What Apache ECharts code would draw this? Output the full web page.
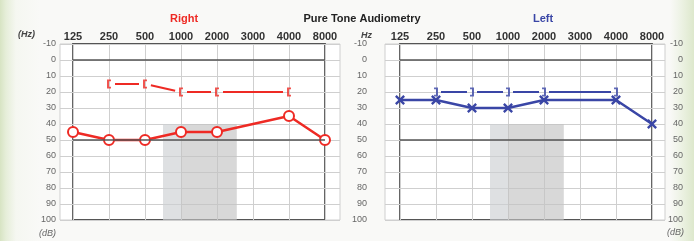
<!DOCTYPE html>
<html>
<head>
<meta charset="utf-8">
<script src="https://cdn.jsdelivr.net/npm/echarts@6/dist/echarts.min.js"></script>
<style>
  html, body { margin: 0; padding: 0; }
  body {
    width: 694px; height: 241px; overflow: hidden;
    background: linear-gradient(to right, #d7e4c3 0px, #e6eed9 6px, #f5f7f1 16px, #f9f9f7 40px, #f9f9f7 670px, #eef3e6 680px, #dde8cc 694px);
  }
  #chart { width: 694px; height: 241px; }
</style>
</head>
<body>
<div id="chart"></div>
<script>
// frequencies (Hz) shown along the top, evenly spaced
var freqLabels = ['125', '250', '500', '1000', '2000', '3000', '4000', '8000'];
// hearing level in dB, null = not tested
var rightAir  = [45, 50, 50, 45, 45, null, 35, 50];
var rightBone = [null, 15, 15, 20, 20, null, 20, null];
var leftAir   = [25, 25, 30, 30, 25, null, 25, 40];
var leftBone  = [null, 20, 20, 20, 20, null, 20, null];
// speech area (in frequency index units and dB)
var speechBox = [2.5, 4.55, 40, 100];

var RED = '#ee2a24';
var BLUE = '#3a46a6';
var LIGHT = '#cfcfcf';
var DARK = '#555555';
var FONT = 'Liberation Sans';

function toPoints(arr) {
  var out = [];
  for (var i = 0; i < arr.length; i++) {
    if (arr[i] != null) out.push([i, arr[i]]);
  }
  return out;
}
function toSegments(arr) {
  var p = toPoints(arr), out = [];
  for (var i = 0; i < p.length - 1; i++) out.push([p[i][0], p[i][1], p[i + 1][0], p[i + 1][1]]);
  return out;
}

var myChart = echarts.init(document.getElementById('chart'));

function outerX(gi) {
  return { gridIndex: gi, type: 'value', min: 0, max: 1, show: false };
}
function freqX(gi) {
  return {
    gridIndex: gi, type: 'value', min: 0, max: 7, interval: 1, position: 'top',
    axisLine: { show: false }, axisTick: { show: false },
    axisLabel: {
      margin: 2, fontFamily: FONT, fontSize: 11, fontWeight: 'bold', color: '#333',
      formatter: function (v) { return freqLabels[v] || ''; }
    },
    splitLine: { show: true, lineStyle: { color: LIGHT, width: 1 } }
  };
}
function dbY(gi, opts) {
  var y = {
    gridIndex: gi, type: 'value', inverse: true, min: -10, max: 100, interval: 10,
    axisLine: { show: false }, axisTick: { show: false },
    axisLabel: { show: false },
    splitLine: { show: false }
  };
  return Object.assign(y, opts || {});
}
var labelStyle = { fontFamily: FONT, fontSize: 9, color: '#666' };

function backSeries(xi, yi) {
  return {
    type: 'scatter', xAxisIndex: xi, yAxisIndex: yi, data: [], z: 1, silent: true,
    markArea: {
      silent: true,
      data: [
        [{ xAxis: speechBox[0], yAxis: speechBox[2], itemStyle: { color: 'rgba(205,208,211,0.65)' } },
         { xAxis: 3, yAxis: speechBox[3] }],
        [{ xAxis: 3, yAxis: speechBox[2], itemStyle: { color: 'rgba(195,195,195,0.65)' } },
         { xAxis: speechBox[1], yAxis: speechBox[3] }]
      ]
    },
    markLine: {
      silent: true, symbol: 'none', label: { show: false },
      lineStyle: { color: DARK, width: 1.5, type: 'solid' },
      data: [{ yAxis: 0 }, { yAxis: 50 }]
    }
  };
}
function boneSegments(xi, yi, arr, color, gap) {
  return {
    type: 'custom', xAxisIndex: xi, yAxisIndex: yi, z: 3, silent: true,
    encode: { x: [0, 2], y: [1, 3] },
    data: toSegments(arr),
    renderItem: function (params, api) {
      var a = api.coord([api.value(0), api.value(1)]);
      var b = api.coord([api.value(2), api.value(3)]);
      var dx = b[0] - a[0], dy = b[1] - a[1];
      var len = Math.sqrt(dx * dx + dy * dy);
      var ux = dx / len, uy = dy / len;
      return {
        type: 'line',
        shape: { x1: a[0] + ux * gap, y1: a[1] + uy * gap, x2: b[0] - ux * gap, y2: b[1] - uy * gap },
        style: { stroke: color, lineWidth: 2 }
      };
    }
  };
}

var option = {
  animation: false,
  backgroundColor: 'transparent',
  grid: [
    { left: 60, top: 44, width: 280, height: 176, show: true, backgroundColor: '#fff', borderColor: LIGHT, borderWidth: 1 },
    { left: 73, top: 44, width: 252, height: 176, show: true, backgroundColor: 'transparent', borderColor: DARK, borderWidth: 1.8 },
    { left: 385, top: 44, width: 280, height: 176, show: true, backgroundColor: '#fff', borderColor: LIGHT, borderWidth: 1 },
    { left: 400, top: 44, width: 252, height: 176, show: true, backgroundColor: 'transparent', borderColor: DARK, borderWidth: 1.8 }
  ],
  xAxis: [outerX(0), freqX(1), outerX(2), freqX(3)],
  yAxis: [
    dbY(0, { axisLabel: Object.assign({ show: true, margin: 4 }, labelStyle), splitLine: { show: true, lineStyle: { color: LIGHT } } }),
    dbY(1, { show: false }),
    dbY(2, { position: 'left', axisLabel: Object.assign({ show: true, margin: 18 }, labelStyle), splitLine: { show: true, lineStyle: { color: LIGHT } } }),
    dbY(2, { position: 'right', axisLabel: Object.assign({ show: true, margin: 18, align: 'right' }, labelStyle) }),
    dbY(3, { show: false })
  ],
  graphic: [
    { type: 'text', x: 184, y: 19, style: { text: 'Right', font: 'bold 11px ' + FONT, fill: RED, align: 'center', verticalAlign: 'middle' } },
    { type: 'text', x: 362, y: 19, style: { text: 'Pure Tone Audiometry', font: 'bold 11px ' + FONT, fill: '#222', align: 'center', verticalAlign: 'middle' } },
    { type: 'text', x: 543, y: 19, style: { text: 'Left', font: 'bold 11px ' + FONT, fill: BLUE, align: 'center', verticalAlign: 'middle' } },
    { type: 'text', x: 18, y: 35, style: { text: '(Hz)', font: 'italic bold 9px ' + FONT, fill: '#444', verticalAlign: 'middle' } },
    { type: 'text', x: 361, y: 36, style: { text: 'Hz', font: 'italic bold 9px ' + FONT, fill: '#444', verticalAlign: 'middle' } },
    { type: 'text', x: 39, y: 233, style: { text: '(dB)', font: 'italic 9px ' + FONT, fill: '#666', verticalAlign: 'middle' } },
    { type: 'text', x: 667, y: 232, style: { text: '(dB)', font: 'italic 9px ' + FONT, fill: '#666', verticalAlign: 'middle' } }
  ],
  series: [
    backSeries(1, 1),
    backSeries(3, 4),
    // right ear air conduction
    {
      type: 'line', xAxisIndex: 1, yAxisIndex: 1, z: 4, data: toPoints(rightAir),
      symbol: 'emptyCircle', symbolSize: 10,
      itemStyle: { color: RED, borderWidth: 2 },
      lineStyle: { color: RED, width: 2.5 }
    },
    boneSegments(1, 1, rightBone, RED, 6),
    {
      type: 'scatter', xAxisIndex: 1, yAxisIndex: 1, z: 4, data: toPoints(rightBone),
      symbol: 'path://M0,0H4V2H2V8H4V10H0Z', symbolSize: [4, 9],
      itemStyle: { color: RED }
    },
    // left ear air conduction
    {
      type: 'line', xAxisIndex: 3, yAxisIndex: 4, z: 4, data: toPoints(leftAir),
      symbol: 'path://M2,0L6,4L10,0L12,2L8,6L12,10L10,12L6,8L2,12L0,10L4,6L0,2Z', symbolSize: 10,
      itemStyle: { color: BLUE },
      lineStyle: { color: BLUE, width: 2.5 }
    },
    boneSegments(3, 4, leftBone, BLUE, 5),
    {
      type: 'scatter', xAxisIndex: 3, yAxisIndex: 4, z: 4, data: toPoints(leftBone),
      symbol: 'path://M0,0H4V10H0V8H2V2H0Z', symbolSize: [4, 9],
      itemStyle: { color: BLUE }
    }
  ]
};

option && myChart.setOption(option);
</script>
</body>
</html>
